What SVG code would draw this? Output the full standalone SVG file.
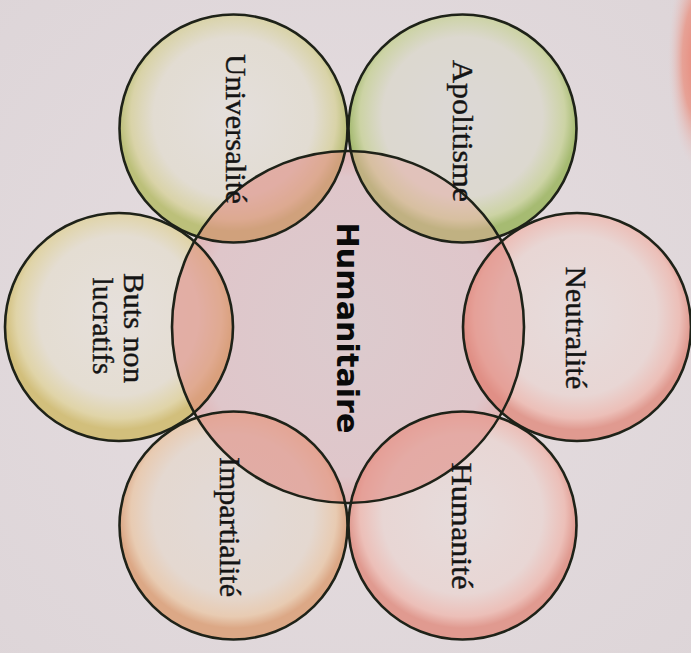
<svg xmlns="http://www.w3.org/2000/svg" width="691" height="653" viewBox="0 0 691 653">
<defs>
<style>
.ring{fill:none;stroke:#1e2218;stroke-width:2.6}
.lbl{font-family:"Liberation Serif","Times New Roman",serif;font-size:30px;fill:#141414;stroke:#141414;stroke-width:0.4;text-anchor:middle;dominant-baseline:central}
.main{font-family:"DejaVu Sans","Verdana",sans-serif;font-weight:bold;font-size:31px;fill:#0a0a0a;text-anchor:middle;dominant-baseline:central}
</style>
<radialGradient id="bg" cx="0.5" cy="0.5" r="0.75">
<stop offset="0" stop-color="#e6dde0"/><stop offset="1" stop-color="#ddd5d8"/>
</radialGradient>
<radialGradient id="blob" cx="0.5" cy="0.5" r="0.5">
<stop offset="0" stop-color="#e8806f"/><stop offset="0.55" stop-color="#e8988a" stop-opacity="0.85"/><stop offset="1" stop-color="#e8c8c8" stop-opacity="0"/>
</radialGradient>
<radialGradient id="gGreenY" cx="0.5" cy="0.45" r="0.5">
<stop offset="0" stop-color="#e4dfdc"/><stop offset="0.7" stop-color="#e2dcd2"/><stop offset="0.9" stop-color="#d9d3a8"/><stop offset="1" stop-color="#bcc07a"/>
</radialGradient>
<radialGradient id="gGreen" cx="0.5" cy="0.45" r="0.5">
<stop offset="0" stop-color="#dcd8d6"/><stop offset="0.7" stop-color="#dcd8cf"/><stop offset="0.9" stop-color="#ccd3a4"/><stop offset="1" stop-color="#a6bb72"/>
</radialGradient>
<radialGradient id="gYellow" cx="0.5" cy="0.45" r="0.5">
<stop offset="0" stop-color="#e6e0dc"/><stop offset="0.7" stop-color="#e4ddd2"/><stop offset="0.9" stop-color="#e0d4a8"/><stop offset="1" stop-color="#d2bf7c"/>
</radialGradient>
<radialGradient id="gPeach" cx="0.5" cy="0.45" r="0.5">
<stop offset="0" stop-color="#e2dad8"/><stop offset="0.7" stop-color="#e4d8d0"/><stop offset="0.9" stop-color="#e8cbb2"/><stop offset="1" stop-color="#dca886"/>
</radialGradient>
<radialGradient id="gPink" cx="0.5" cy="0.45" r="0.5">
<stop offset="0" stop-color="#e6dcdc"/><stop offset="0.7" stop-color="#e8d6d4"/><stop offset="0.9" stop-color="#ecbfb8"/><stop offset="1" stop-color="#e09a90"/>
</radialGradient>
<radialGradient id="gCenter" cx="0.5" cy="0.5" r="0.5">
<stop offset="0" stop-color="#dccbce"/><stop offset="0.85" stop-color="#dfc6ca"/><stop offset="1" stop-color="#e2b4b4"/>
</radialGradient>
<clipPath id="cc"><circle cx="348" cy="327" r="176"/></clipPath>
</defs>
<rect width="691" height="653" fill="url(#bg)"/>
<ellipse cx="700" cy="60" rx="32" ry="110" fill="url(#blob)"/>
<g id="center-fill"><circle cx="348" cy="327" r="176" fill="url(#gCenter)"/></g>
<g id="n-universalite"><circle cx="233.5" cy="128.5" r="114" fill="url(#gGreenY)"/></g>
<g id="n-apolitisme"><circle cx="462.5" cy="128.5" r="114" fill="url(#gGreen)"/></g>
<g id="n-neutralite"><circle cx="577" cy="327" r="114" fill="url(#gPink)"/></g>
<g id="n-humanite"><circle cx="462.5" cy="525.5" r="114" fill="url(#gPink)"/></g>
<g id="n-impartialite"><circle cx="233.5" cy="525.5" r="114" fill="url(#gPeach)"/></g>
<g id="n-buts"><circle cx="119" cy="327" r="114" fill="url(#gYellow)"/></g>
<g id="lenses" clip-path="url(#cc)" fill="#e0877e" fill-opacity="0.55">
<circle cx="233.5" cy="128.5" r="114"/>
<circle cx="462.5" cy="128.5" r="114" fill="#e8a29a" fill-opacity="0.4"/>
<circle cx="577" cy="327" r="114"/>
<circle cx="462.5" cy="525.5" r="114"/>
<circle cx="233.5" cy="525.5" r="114"/>
<circle cx="119" cy="327" r="114"/>
</g>
<g id="connectors">
<circle class="ring" cx="348" cy="327" r="176"/>
<circle class="ring" cx="233.5" cy="128.5" r="114"/>
<circle class="ring" cx="462.5" cy="128.5" r="114"/>
<circle class="ring" cx="577" cy="327" r="114"/>
<circle class="ring" cx="462.5" cy="525.5" r="114"/>
<circle class="ring" cx="233.5" cy="525.5" r="114"/>
<circle class="ring" cx="119" cy="327" r="114"/>
</g>
<g id="labels">
<text class="main" transform="translate(348,328) rotate(90)" textLength="211" lengthAdjust="spacingAndGlyphs">Humanitaire</text>
<text class="lbl" transform="translate(236,129) rotate(90)" textLength="150" lengthAdjust="spacingAndGlyphs">Universalité</text>
<text class="lbl" transform="translate(463,131) rotate(90)" textLength="142" lengthAdjust="spacingAndGlyphs">Apolitisme</text>
<text class="lbl" transform="translate(576,328) rotate(90)" textLength="123" lengthAdjust="spacingAndGlyphs">Neutralité</text>
<text class="lbl" transform="translate(462,526) rotate(90)" textLength="127" lengthAdjust="spacingAndGlyphs">Humanité</text>
<text class="lbl" transform="translate(230,527) rotate(90)" textLength="140" lengthAdjust="spacingAndGlyphs">Impartialité</text>
<text class="lbl" transform="translate(134,328) rotate(90)" textLength="110" lengthAdjust="spacingAndGlyphs">Buts non</text>
<text class="lbl" transform="translate(103,326) rotate(90)" textLength="97" lengthAdjust="spacingAndGlyphs">lucratifs</text>
</g>
</svg>
